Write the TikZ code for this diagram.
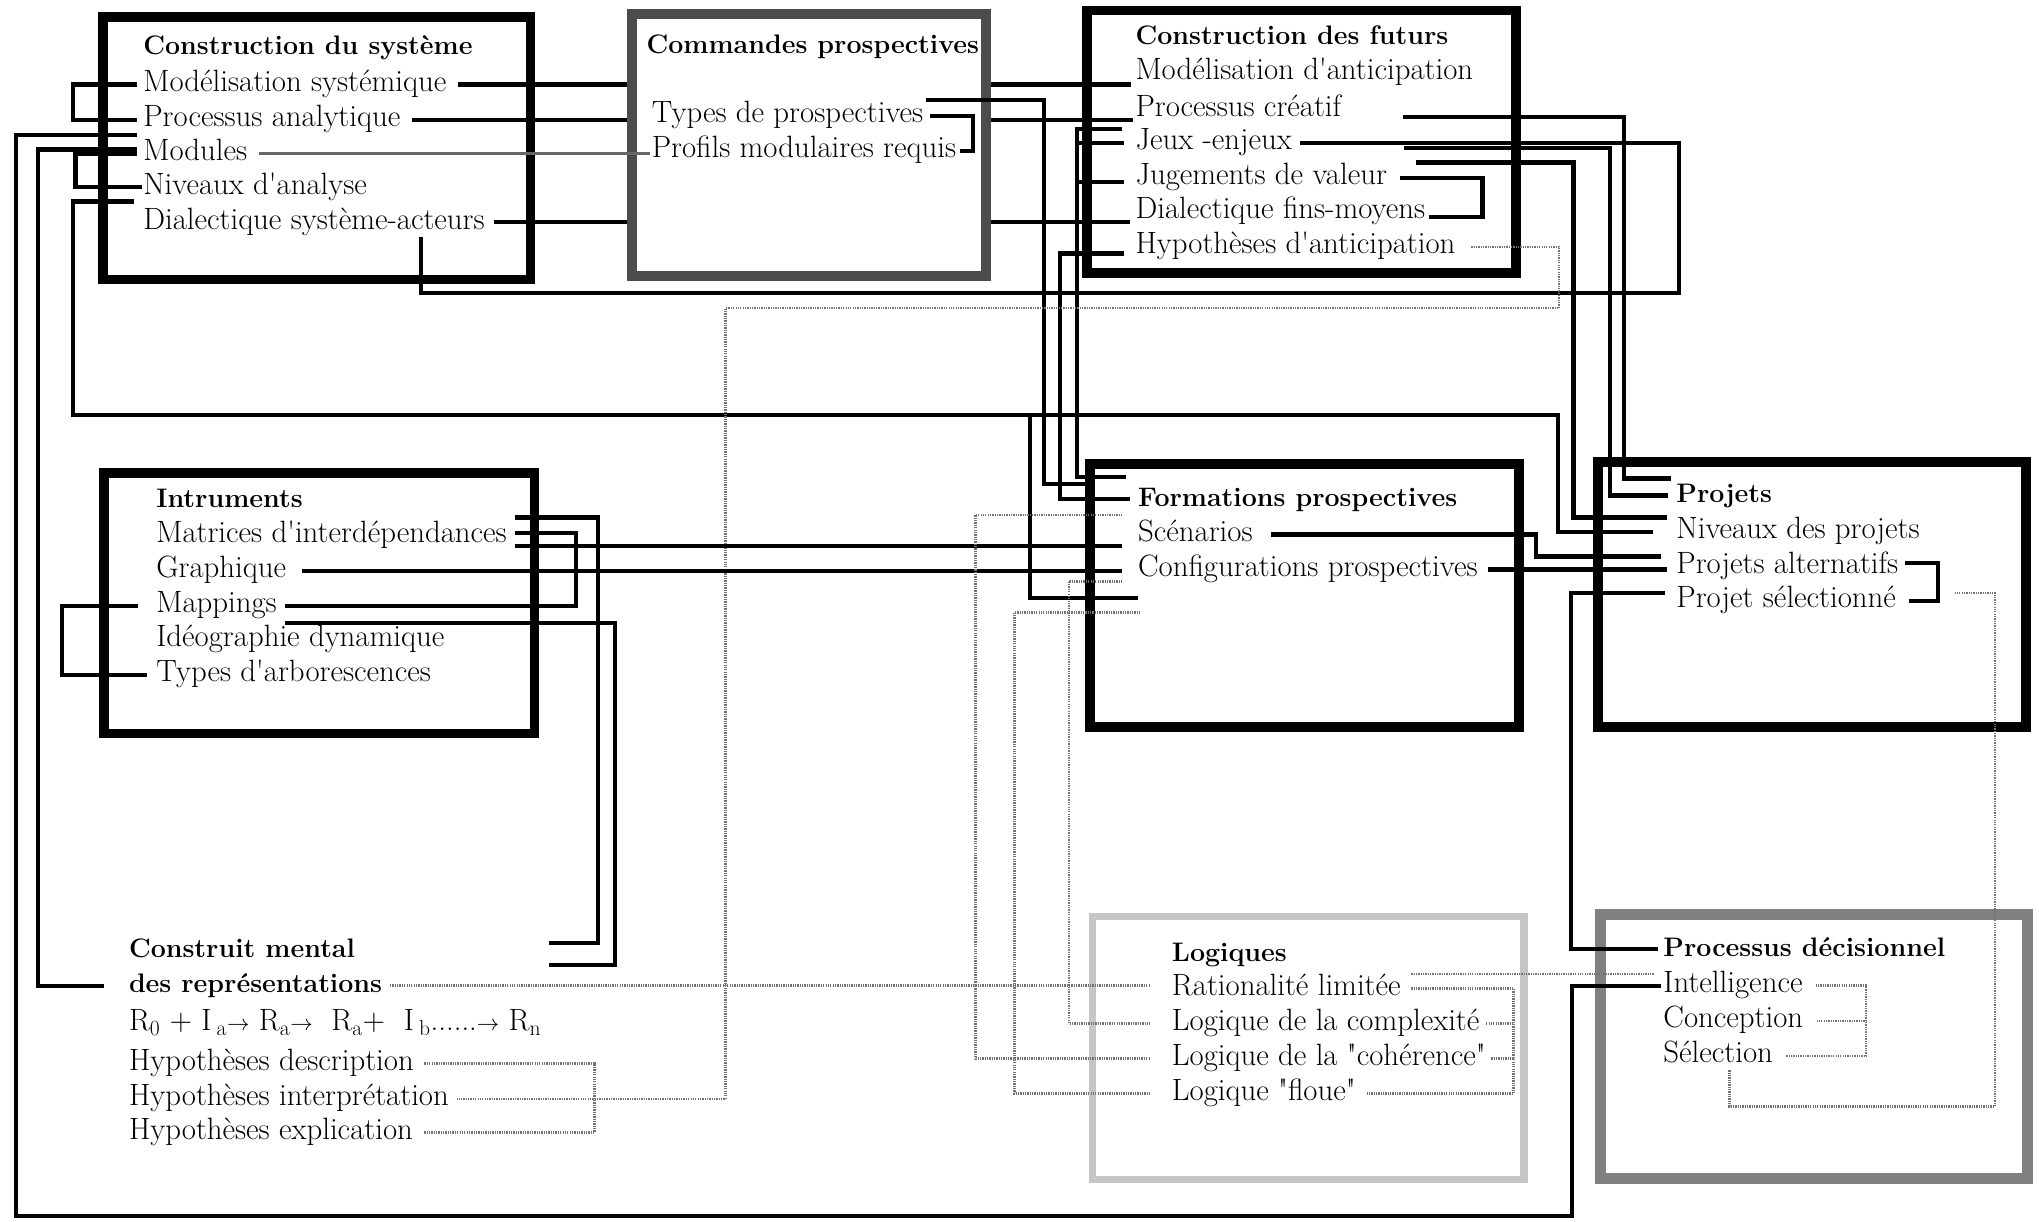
\documentclass[tikz,border=0pt]{standalone}
\usetikzlibrary{calc,positioning}
\pgfdeclarelayer{background}
\pgfsetlayers{background,main}

\begin{document}
\begin{tikzpicture}[x=1pt,y=-1pt]

\tikzset{item/.style={anchor=west, inner sep=0pt, text height=16pt, text depth=5.5pt, font=\fontsize{23.7}{26}\selectfont},
head/.style={item, font=\fontsize{20.6}{24}\selectfont\bfseries},
frame/.style={line width=7.5pt},
wire/.style={line width=3.2pt},
hatch/.style={line width=2.8pt, black!60},
dotwire/.style={line width=2pt, black!55, dash pattern=on 1pt off 0.8pt}}

\useasboundingbox (0,0) rectangle (1568,939);

%titles
\node[head] (tA) at (110,37) {Construction du système};
\node[head] (tB) at (497,36) {Commandes prospectives};
\node[head] (tC) at (873,29) {Construction des futurs};
\node[head] (tD) at (120,385) {Intruments};
\node[head] (tE) at (875,384) {Formations prospectives};
\node[head] (tF) at (1289,381) {Projets};
\node[head] (tG1) at (99,731) {Construit mental};
\node[head] (tG2) at (99,758) {des représentations};
\node[head] (tH) at (901,734) {Logiques};
\node[head] (tI) at (1279,730) {Processus décisionnel};

%items
\foreach \nm/\txt/\yy in {msys/Modélisation systémique/65, pana/Processus analytique/92, modu/Modules/118, niva/Niveaux d\textquotesingle analyse/144, dsa/Dialectique système-acteurs/171}
  \node[item] (\nm) at (110,\yy) {\txt};
\foreach \nm/\txt/\yy in {tpro/Types de prospectives/89, pmod/Profils modulaires requis/116}
  \node[item] (\nm) at (501,\yy) {\txt};
\foreach \nm/\txt/\yy in {mant/Modélisation d\textquotesingle anticipation/56, pcre/Processus créatif/84, jeux/Jeux -enjeux/110, jval/Jugements de valeur/137, dfm/Dialectique fins-moyens/163, hant/Hypothèses d\textquotesingle anticipation/190}
  \node[item] (\nm) at (873,\yy) {\txt};
\foreach \nm/\txt/\yy in {mat/Matrices d\textquotesingle interdépendances/412, gra/Graphique/439, map/Mappings/466, ideo/Idéographie dynamique/492, tarb/Types d\textquotesingle arborescences/519}
  \node[item] (\nm) at (120,\yy) {\txt};
\foreach \nm/\txt/\yy in {scen/Scénarios/411, conf/Configurations prospectives/438}
  \node[item] (\nm) at (875,\yy) {\txt};
\foreach \nm/\txt/\yy in {nproj/Niveaux des projets/409, palt/Projets alternatifs/436, psel/Projet sélectionné/462}
  \node[item] (\nm) at (1289,\yy) {\txt};
\node[item] (form) at (99,787) {R\textsubscript{0} + I\,\textsubscript{a}$\scriptstyle\rightarrow$ R\textsubscript{a}$\scriptstyle\rightarrow$\ \ R\textsubscript{a}+\ \ I\,\textsubscript{b}......$\scriptstyle\rightarrow$ R\textsubscript{n}};
\foreach \nm/\txt/\yy in {hdes/Hypothèses description/818, hint/Hypothèses interprétation/845, hexp/Hypothèses explication/871}
  \node[item] (\nm) at (99,\yy) {\txt};
\foreach \nm/\txt/\yy in {rat/Rationalité limitée/760, lcx/Logique de la complexité/787, lco/Logique de la \textquotedbl cohérence\textquotedbl/814, lfl/Logique \textquotedbl floue\textquotedbl/841}
  \node[item] (\nm) at (901,\yy) {\txt};
\foreach \nm/\txt/\yy in {intl/Intelligence/758, conc/Conception/785, sel/Sélection/812}
  \node[item] (\nm) at (1279,\yy) {\txt};

%lines hidden by Commandes prospectives
\begin{pgfonlayer}{background}
\draw[wire] ([xshift=9pt]msys.east) -- (870,0 |- msys.east);
\draw[wire] ([xshift=9pt]pana.east) -- (871,0 |- pana.east);
\draw[wire] ([xshift=7pt]dsa.east) -- (869,0 |- dsa.east);
\fill[white] (486,11) rectangle (758,212);
\end{pgfonlayer}

%frames
\draw[frame] (79,13) rectangle (408,215);
\draw[frame, draw=black!70] (486,11) rectangle (758,212);
\draw[frame] (836,8) rectangle (1166,210);
\draw[frame] (80,364) rectangle (411,564);
\draw[frame] (838,357) rectangle (1168,559);
\draw[frame] (1229,355) rectangle (1558,559);
\draw[frame, line width=5.5pt, draw=gray!45] (840,705) rectangle (1172,907);
\draw[frame, line width=8.5pt, draw=black!50] (1231,703) rectangle (1559,906);

%Construction du systeme
\draw[wire] ([xshift=-5pt]msys.west) -| (56,0 |- pana.west) -- ([xshift=-5pt]pana.west);
\draw[wire] ([xshift=-5pt]modu.west) -| (58,0 |- niva.west) -- ([xshift=-1pt]niva.west);
\draw[wire] ([xshift=-5pt,yshift=-12pt]pana.west) -| (12,935) -| (1209,0 |- intl.west) -- ([xshift=-2pt]intl.west);
\draw[wire] ([xshift=-5pt,yshift=3pt]modu.west) -| (29,0 |- tG2.west) -- ([xshift=-19pt]tG2.west);
\draw[wire] ([xshift=-7pt,yshift=-11pt]niva.west) -| (56,319) -| (1198,0 |- nproj.west) -- ([xshift=-18pt]nproj.west);
\draw[wire] (792,319) |- (tE.west |- 0,460);
\draw[hatch] ([xshift=9pt]modu.east) -- ([xshift=-1pt]pmod.west |- modu.east);
\draw[wire] (324,182) |- (1291,225) |- ([xshift=6pt]jeux.east);

%Commandes prospectives
\draw[wire] ([xshift=5pt]tpro.east) -| (748,0 |- pmod.east) -- ([xshift=3pt]pmod.east);
\draw[wire] ([xshift=2pt,yshift=1pt]tpro.north east) -| (803,372) -- (842,372);

%Construction des futurs
\draw[wire] (863,99) -| (828,367) -- (866,367);
\draw[wire] (828,0 |- jeux.west) -- ([xshift=-9pt]jeux.west);
\draw[wire] (828,140) -- ([xshift=-9pt,yshift=-3pt]jval.west);
\draw[wire] ([xshift=-9pt,yshift=-5pt]hant.west) -| (815,0 |- tE.west) -- ([xshift=-6pt]tE.west);
\draw[wire] (1079,90) -| (1249,368) -- (1285,368);
\draw[wire] (1080,114) -| (1238,0 |- tF.west) -- ([xshift=-6pt]tF.west);
\draw[wire] (1089,125) -| (1210,398) -- (1282,398);
\draw[wire] ([xshift=10pt]jval.east) -| (1140,167) -- ([xshift=3pt,yshift=-4pt]dfm.east);
\draw[dotwire] ([xshift=12pt]hant.east) -| (1199,237) -| (558,0 |- hint.east) -- ([xshift=6pt]hint.east);

%Intruments
\draw[wire] ([xshift=6pt,yshift=14pt]mat.east) -| (460,725) -- (422,725);
\draw[wire] ([xshift=6pt,yshift=2pt]mat.east) -| (443,0 |- map.east) -- ([xshift=6pt]map.east);
\draw[wire] ([xshift=6pt,yshift=-8pt]mat.east) -- (863,420);
\draw[wire] ([xshift=12pt]gra.east) -- (863,0 |- gra.east);
\draw[wire] ([xshift=6pt,yshift=-13pt]map.east) -| (473,742) -- (422,742);
\draw[wire] ([xshift=-14pt]map.west) -| (48,0 |- tarb.west) -- ([xshift=-7pt]tarb.west);

%Formations prospectives
\draw[wire] ([xshift=14pt]scen.east) -| (1181,428) -- ([xshift=-12pt,yshift=8pt]palt.west);
\draw[wire] ([xshift=8pt]conf.east) -- (1282,0 |- conf.east);
\draw[dotwire] (863,396) -| (750,0 |- lco.west) -- ([xshift=-17pt]lco.west);
\draw[dotwire] (863,447) -| (822,0 |- lcx.west) -- ([xshift=-17pt]lcx.west);
\draw[dotwire] (877,471) -| (780,0 |- lfl.west) -- ([xshift=-17pt]lfl.west);

%Projets
\draw[wire] ([xshift=5pt,yshift=3pt]palt.east) -| (1490,0 |- psel.east) -- ([xshift=10pt]psel.east);
\draw[wire] ([xshift=-9pt,yshift=6pt]psel.west) -| (1208,0 |- tI.west) -- ([xshift=-4pt]tI.west);
\draw[dotwire] (1503,456) -| (1534,851) -| (1330,823);

%Construit mental
\draw[dotwire] ([xshift=8pt]hdes.east) -| (457,0 |- hexp.east) -- ([xshift=8pt]hexp.east);
\draw[dotwire] ([xshift=6pt]tG2.east) -- ([xshift=-17pt]rat.west |- tG2.east);

%Logiques
\draw[dotwire] ([xshift=8pt]rat.east) -| (1164,0 |- lfl.east) -- ([xshift=8pt]lfl.east);
\draw[dotwire] ([xshift=5pt]lcx.east) -- (1164,0 |- lcx.east);
\draw[dotwire] ([xshift=4pt]lco.east) -- (1164,0 |- lco.east);
\draw[dotwire] ([xshift=8pt,yshift=11pt]rat.east) -- ([xshift=-7pt,yshift=9pt]intl.west);

%Processus decisionnel
\draw[dotwire] ([xshift=10pt]intl.east) -| (1435,0 |- sel.east) -- ([xshift=10pt]sel.east);
\draw[dotwire] ([xshift=10pt]conc.east) -- (1435,0 |- conc.east);

\end{tikzpicture}
\end{document}
